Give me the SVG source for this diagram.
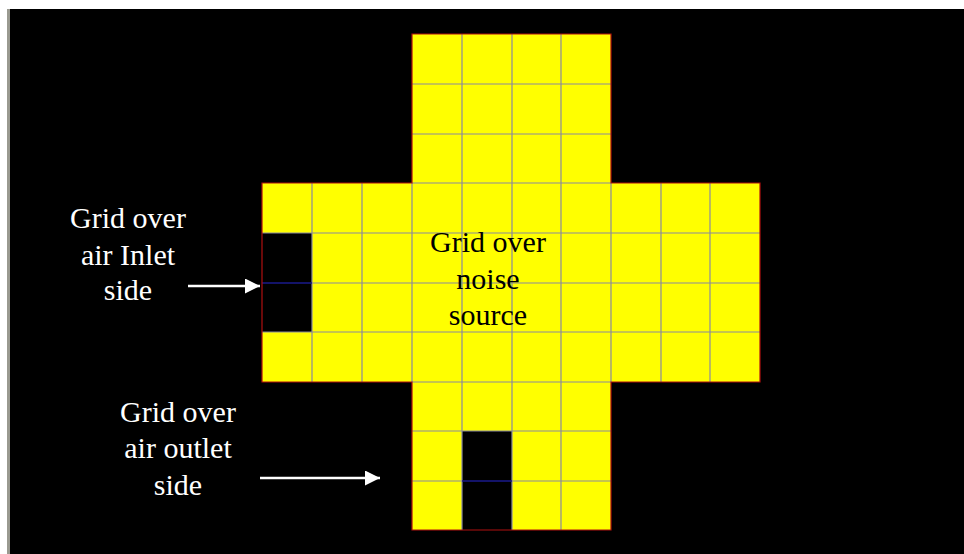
<svg xmlns="http://www.w3.org/2000/svg" width="964" height="554" viewBox="0 0 964 554">
  <defs>
    <style>
      .bg{fill:#000}
      .cell{fill:#ffff00}
      .hole{fill:#000}
      .grid{stroke:#8a8a9e;stroke-width:1.2;fill:none}
      .inner{stroke:#1a1a8c;stroke-width:1.5;fill:none}
      .outline{stroke:#b01010;stroke-width:1.2;fill:none}
      .lbl{font-size:30px;text-anchor:middle}
      .w{fill:#fff}
      .k{fill:#000}
      .arrow{stroke:#fff;stroke-width:2.5;fill:none}
    </style>
    <marker id="ah" markerWidth="16" markerHeight="16" refX="15" refY="7.5" orient="auto" markerUnits="userSpaceOnUse">
      <path d="M0,0 L15,7.5 L0,15 Z" fill="#fff"/>
    </marker>
  </defs>
  <rect x="0" y="0" width="964" height="554" fill="#fff"/>
  <rect x="7" y="9" width="3" height="545" fill="#9a9a90"/>
  <rect class="bg" x="10" y="9" width="954" height="545"/>

  <g id="grid-shape">
    <path class="cell" d="M412,34 H611 V183 H760 V382 H611 V530 H412 V382 H262 V183 H412 Z"/>
    <rect class="hole" x="262" y="233" width="50" height="99"/>
    <rect class="hole" x="462" y="431" width="50" height="99"/>
    <path class="grid" d="M462,34 V183 M512,34 V183 M561,34 V183 M412,84 H611 M412,134 H611 M412,183 H611
      M312,183 V382 M362,183 V382 M412,183 V382 M462,183 V382 M512,183 V382 M561,183 V382 M611,183 V382 M661,183 V382 M710,183 V382
      M262,233 H760 M312,283 H760 M262,332 H760
      M412,382 H611 M462,382 V530 M512,382 V530 M561,382 V530 M412,431 H611 M412,481 H462 M512,481 H611"/>
    <path class="inner" d="M262,283 H312 M462,481 H512"/>
    <path class="outline" d="M412,34 H611 V183 H760 V382 H611 V530 H412 V382 H262 V183 H412 Z"/>
  </g>

  <g id="label-inlet" font-family="Liberation Serif, Times New Roman, serif">
    <text class="lbl w" x="128" y="228">Grid over</text>
    <text class="lbl w" x="128" y="265">air Inlet</text>
    <text class="lbl w" x="128" y="300">side</text>
  </g>
  <g id="label-source" font-family="Liberation Serif, Times New Roman, serif">
    <text class="lbl k" x="488" y="252">Grid over</text>
    <text class="lbl k" x="488" y="289">noise</text>
    <text class="lbl k" x="488" y="325">source</text>
  </g>
  <g id="label-outlet" font-family="Liberation Serif, Times New Roman, serif">
    <text class="lbl w" x="178" y="422">Grid over</text>
    <text class="lbl w" x="178" y="458">air outlet</text>
    <text class="lbl w" x="178" y="495">side</text>
  </g>

  <g id="connectors">
    <line class="arrow" x1="188" y1="286" x2="260" y2="286" marker-end="url(#ah)"/>
    <line class="arrow" x1="260" y1="478" x2="380" y2="478" marker-end="url(#ah)"/>
  </g>
</svg>
